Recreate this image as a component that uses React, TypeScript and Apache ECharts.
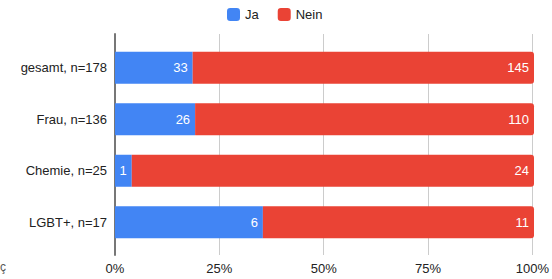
import React, { useEffect, useRef } from "react";
import * as echarts from "echarts";

const categories = ["gesamt, n=178", "Frau, n=136", "Chemie, n=25", "LGBT+, n=17"];
const jaValues = [33, 26, 1, 6];
const neinValues = [145, 110, 24, 11];
const xTicks = [0, 25, 50, 75, 100];

const FONT = "Arial, 'Liberation Sans', sans-serif";

export default function App() {
  const ref = useRef<HTMLDivElement>(null);
  useEffect(() => {
    if (!ref.current) return;
    const chart = echarts.init(ref.current, undefined, { renderer: "svg" });
    const totals = jaValues.map((v, i) => v + neinValues[i]);
    const jaPct = jaValues.map((v, i) => ({ value: (v / totals[i]) * 100, raw: v }));
    const neinPct = neinValues.map((v, i) => ({ value: (v / totals[i]) * 100, raw: v }));
    chart.setOption({
      animation: false,
      textStyle: { fontFamily: FONT },
      legend: {
        top: 8,
        left: 227,
        padding: 0,
        icon: "roundRect",
        itemWidth: 13,
        itemHeight: 13,
        itemGap: 19,
        textStyle: { fontSize: 13, color: "#222", fontFamily: FONT },
        data: ["Ja", "Nein"],
      },
      grid: [
        { left: 115, right: 18, top: 34, bottom: 24, containLabel: false },
        { left: 115, right: 18, top: 42, bottom: 31, containLabel: false },
      ],
      xAxis: [
        {
          gridIndex: 0,
          type: "value",
          min: 0,
          max: 100,
          interval: 25,
          axisLine: { show: false },
          axisTick: { show: false },
          splitLine: { show: true, lineStyle: { color: "#ccc", width: 1 } },
          axisLabel: {
            formatter: (v: number) => (xTicks.includes(v) ? v + "%" : ""),
            color: "#222",
            fontSize: 13,
            margin: 7,
            fontFamily: FONT,
          },
        },
        {
          gridIndex: 1,
          type: "value",
          min: 0,
          max: 100,
          show: false,
        },
      ],
      yAxis: [
        {
          gridIndex: 0,
          type: "category",
          data: [""],
          axisLine: { show: true, lineStyle: { color: "#777", width: 2 } },
          axisTick: { show: false },
          axisLabel: { show: false },
          splitLine: { show: false },
        },
        {
          gridIndex: 1,
          type: "category",
          data: categories,
          inverse: true,
          axisLine: { show: false },
          axisTick: { show: false },
          axisLabel: { color: "#222", fontSize: 13, margin: 8, fontFamily: FONT },
        },
      ],
      series: [
        {
          name: "Ja",
          type: "bar",
          stack: "s",
          xAxisIndex: 1,
          yAxisIndex: 1,
          barWidth: "62%",
          data: jaPct,
          itemStyle: { color: "#4285F4" },
          label: {
            show: true,
            position: "insideRight",
            distance: 5,
            color: "#fff",
            fontSize: 13,
            fontFamily: FONT,
            formatter: (p: any) => String(p.data.raw),
          },
        },
        {
          name: "Nein",
          type: "bar",
          stack: "s",
          xAxisIndex: 1,
          yAxisIndex: 1,
          barWidth: "62%",
          data: neinPct,
          itemStyle: { color: "#EA4335", borderRadius: [0, 3, 3, 0] },
          label: {
            show: true,
            position: "insideRight",
            distance: 5,
            color: "#fff",
            fontSize: 13,
            fontFamily: FONT,
            formatter: (p: any) => String(p.data.raw),
          },
        },
      ],
      graphic: [
        {
          type: "text",
          left: 0,
          top: 261,
          style: { text: "ç", fill: "#555", fontSize: 12, fontFamily: FONT },
        },
      ],
    });
    return () => chart.dispose();
  }, []);
  return (
    <div
      ref={ref}
      style={{ position: "absolute", left: 0, top: 0, width: 552, height: 279 }}
    />
  );
}
